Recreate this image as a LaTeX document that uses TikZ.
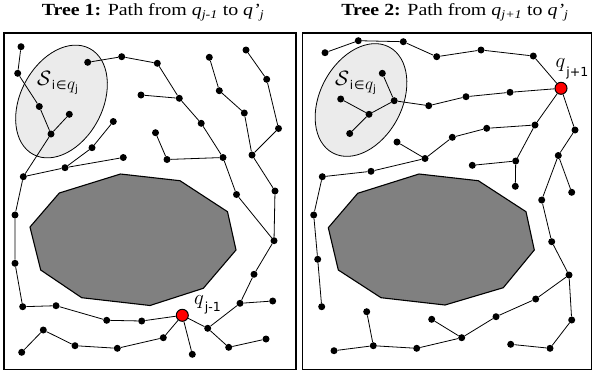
\documentclass[tikz,border=0pt]{standalone}
\usepackage{fontspec}
\setmainfont{Liberation Serif}
\newfontfamily\dejavu{DejaVu Sans}
\begin{document}
\begin{tikzpicture}[x=1pt,y=-1pt,
  dot/.style={circle,fill=black,inner sep=0pt,minimum size=7pt},
  reddot/.style={circle,fill=red,draw=black,line width=1pt,inner sep=0pt,minimum size=12pt},
  edge/.style={line width=0.8pt},
  frame/.style={line width=1.1pt},
  obst/.style={fill=black!50,draw=black,line width=1.1pt,line join=round},
  ell/.style={fill=black!8,draw=black,line width=0.8pt},
  ttl/.style={font=\fontsize{17}{19}\selectfont,inner sep=0pt,anchor=base},
  lbl/.style={inner sep=0pt,anchor=base west}]
\useasboundingbox (0,0) rectangle (593,378);
% titles
\node[ttl] (t1) at (153,15.5) {\scalebox{1.17}[1]{\textbf{Tree 1:} Path from \textit{q}\textsubscript{\textit{j-1}} to \textit{q'}\textsubscript{\textit{j}}}};
\node[ttl] (t2) at (455,15.5) {\scalebox{1.17}[1]{\textbf{Tree 2:} Path from \textit{q}\textsubscript{\textit{j+1}} to \textit{q'}\textsubscript{\textit{j}}}};
% frames
\draw[frame] (4,33) rectangle (296,369.5);
\draw[frame] (302.5,33) rectangle (591.5,369.5);
% ellipses
\draw[ell, rotate around={62:(61.5,101.5)}] (61.5,101.5) ellipse [x radius=60, y radius=41];
\draw[ell, rotate around={62:(361,100)}] (361,100) ellipse [x radius=60, y radius=41];
% obstacles
\draw[obst] (30,227) -- (59.3,193) -- (120.5,174) -- (180,180.7) -- (227.5,211.7) -- (236,250) -- (203.3,288.3) -- (150,305.5) -- (81.7,297.7) -- (40.7,270) -- cycle;
\draw[obst] (328.3,227.7) -- (357.7,193.3) -- (419,174) -- (478.3,180.7) -- (526,211.7) -- (534.3,250) -- (503.3,287.7) -- (445,305) -- (381,297.7) -- (338.3,270) -- cycle;
% panel 1 nodes
\foreach \n/\x/\y in {a1/21/46.7,a2/17.7/73.3,a3/39.3/106.5,a4/69.3/114.3,a5/51/134,a6/87.7/62.3,a7/121.7/56.7,a8/157.3/63.3,a9/179.3/98.3,a10/141/95,a11/113.3/121.5,a12/92/147.7,a13/123.3/157.5,a14/65/167.7,a15/23.3/176.7,a16/15/215,a17/15/263.3,a18/22.7/306.7,a19/56/305.7,a20/106.7/320.3,a21/141.7/321,a22/43.3/330,a23/21.7/352.3,a24/75/345.7,a25/117.3/348.3,a26/155.5/132.7,a27/167/159.5,a28/223/157.5,a29/201.2/123.3,a30/209.3/57.3,a31/219.3/90.7,a32/244.3/113,a33/252/155,a34/246/50,a35/266.7/79.3,a36/278.5/128.5,a37/236.5/194.5,a38/275/191,a39/274/240.7,a40/254/274.3,a41/240/303.3,a42/272.7/301,a43/207.7/328.3,a44/228.7/347.3,a45/266/339,a46/163.3/337.7,a47/192.3/354.3}
  {\node[dot] (\n) at (\x,\y) {};}
\node[reddot] (r1) at (182.3,315.3) {};
% panel 2 nodes
\foreach \n/\x/\y in {b1/325/52.7,b2/358.3/40.7,b3/403.3/41.7,b4/436.7/56.7,b5/481/50,b6/533.3/56,b7/382.3/73.3,b8/394.2/100.7,b9/340.7/99,b10/369/114.3,b11/349.7/133.5,b12/428.7/105.7,b13/466/96.7,b14/510/92.3,b15/397/142,b16/425/158.5,b17/452.3/137.3,b18/486.7/128.3,b19/535/125,b20/575/130,b21/558.3/155.5,b22/571.7/192.3,b23/541.7/200,b24/515.7/161,b25/472.3/165.3,b26/515.3/186.3,b27/371/171.3,b28/322.3/176.7,b29/313.7/215,b30/317.7/259.3,b31/321.7/306.7,b32/366.7/311.7,b33/373.3/345.7,b34/334/350.7,b35/416.7/348.3,b36/431.7/319.3,b37/461.7/337.7,b38/496/316.7,b39/535.7/299,b40/569/275,b41/551.7/241.7,b42/571.7/320,b43/550/348.3,b44/510.7/344.3}
  {\node[dot] (\n) at (\x,\y) {};}
\node[reddot] (r2) at (561,88.3) {};
% panel 1 edges
\draw[edge] (a1)--(a2)--(a3)--(a5)--(a15)--(a16)--(a17)--(a18)--(a19)--(a20)--(a21)--(r1);
\draw[edge] (a4)--(a5);
\draw[edge] (a15)--(a14)--(a12)--(a11);
\draw[edge] (a14)--(a13);
\draw[edge] (a23)--(a22)--(a24)--(a25)--(a46)--(r1);
\draw[edge] (r1)--(a47);
\draw[edge] (r1)--(a43)--(a41)--(a40)--(a39)--(a38)--(a33)--(a32)--(a31)--(a30);
\draw[edge] (a41)--(a42);
\draw[edge] (a39)--(a37)--(a28)--(a27)--(a26);
\draw[edge] (a33)--(a36)--(a35)--(a34);
\draw[edge] (a28)--(a29)--(a9)--(a8)--(a7)--(a6);
\draw[edge] (a9)--(a10);
\draw[edge] (a43)--(a44)--(a45);
% panel 2 edges
\draw[edge] (b1)--(b2)--(b3)--(b4)--(b5)--(b6)--(r2);
\draw[edge] (r2)--(b14)--(b13)--(b12)--(b8)--(b7);
\draw[edge] (b8)--(b10)--(b9);
\draw[edge] (b10)--(b11);
\draw[edge] (b15)--(b16)--(b17)--(b18)--(b19)--(r2);
\draw[edge] (b19)--(b24)--(b25);
\draw[edge] (b24)--(b26);
\draw[edge] (r2)--(b20)--(b21)--(b22);
\draw[edge] (b21)--(b23)--(b41)--(b40)--(b39)--(b38)--(b37)--(b36);
\draw[edge] (b40)--(b42)--(b43)--(b44);
\draw[edge] (b37)--(b35)--(b33)--(b34);
\draw[edge] (b33)--(b32);
\draw[edge] (b16)--(b27)--(b28)--(b29)--(b30)--(b31);
% labels
\node[lbl] (s1) at (37,85) {\fontsize{22}{24}\selectfont$\mathcal{S}$\kern0.5pt\raisebox{-4pt}{\fontsize{12}{14}\selectfont\dejavu i\kern1pt∈\kern0.5pt{\fontsize{17}{18}\selectfont$q$}\raisebox{-3pt}{\fontsize{10}{12}\selectfont j}}};
\node[lbl] (s2) at (335,85) {\fontsize{22}{24}\selectfont$\mathcal{S}$\kern0.5pt\raisebox{-4pt}{\fontsize{12}{14}\selectfont\dejavu i\kern1pt∈\kern0.5pt{\fontsize{17}{18}\selectfont$q$}\raisebox{-3pt}{\fontsize{10}{12}\selectfont j}}};
\node[lbl] (q1) at (194,304) {\fontsize{20}{22}\selectfont$q$\kern1pt\raisebox{-7pt}{\fontsize{12.5}{14}\selectfont\dejavu j-1}};
\node[lbl] (q2) at (555.5,67.5) {\fontsize{20}{22}\selectfont$q$\kern1pt\raisebox{-9pt}{\fontsize{12.5}{14}\selectfont\dejavu j+1}};
\end{tikzpicture}
\end{document}
